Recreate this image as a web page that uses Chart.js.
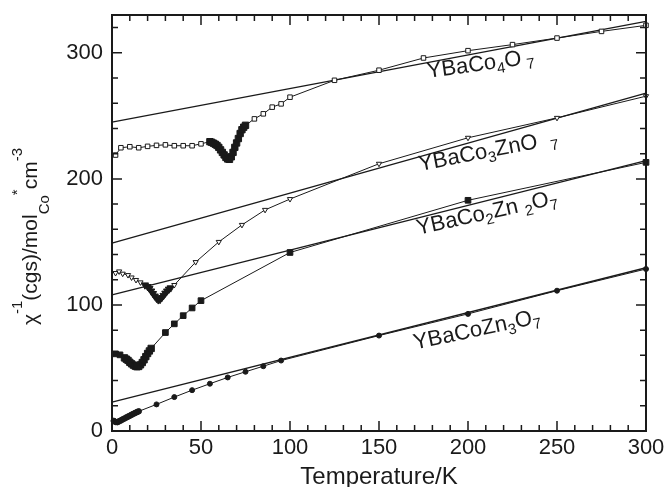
<!DOCTYPE html>
<html><head><meta charset="utf-8">
<script src="https://cdn.jsdelivr.net/npm/chart.js@4/dist/chart.umd.min.js"></script>
<style>html,body{margin:0;padding:0;background:#fff}</style>
</head><body>
<canvas id="c" width="665" height="487"></canvas>
<script>
// ---- data (temperature in K, inverse susceptibility) ----
const co4T   = [2,5,10,15,20,25,30,35,40,45,50,55,56,57,58,59,60,61,62,63,64,65,66,67,68,69,70,71,72,73,74,75,80,85,90,95,100,125,150,175,200,225,250,275,300];
const co4Chi = [218.9,224.7,225.5,224.7,225.8,226.6,227,226.3,226.3,226.3,227.8,229.5,229,228.3,227.5,226.5,225,223,221,219,217,215.8,215.5,217.5,221,225,228.5,232,236,239,241,242.5,247.6,251.6,256.9,259.5,264.8,278.2,286.2,295.9,301.7,306.5,311.7,317,321.8];

const co3T   = [2,4,6,9,11,13.5,16,18.5,20,21,22,23,24,25,26,27,28,29,30,31,32,33,35,47,60,73,86,100,150,200,250,300];
const co3Chi = [125.3,126.6,124.8,123.7,121.8,119.8,117.9,115.8,114.5,113,111,109,107,105.2,104,104.3,105.8,107.5,109.3,111,112.5,113.5,115.8,134,150,163.5,175.4,184,212,232.6,248.4,265.6];

const co2T   = [2,4.5,7,8,9,10,11,12,13,14,15,16,17,18,19,20,21,22,30,35,40,45,50,100,200,300];
const co2Chi = [61.2,60.4,58,57,56,54.5,53.3,52.3,51.5,51,51.2,52.5,54.3,56.5,59,61.5,63.5,65.5,78.1,85,91.5,97.6,103.4,141.6,183,213.1];

const co1T   = [1,2,3,4,5,6,7,8,9,10,11,12,13,14,15,25,35,45,55,65,75,85,95,150,200,250,300];
const co1Chi = [8,7.2,7,7.7,8.4,9.2,9.9,10.7,11.4,12.1,12.9,13.6,14.3,15,15.6,21.1,26.9,32.4,37.5,42.5,47,51.4,55.9,75.7,92.9,111.3,128.5];

// Curie-Weiss fit lines
const fitT     = [0,300];
const fitCo4   = [245,325];
const fitCo3   = [149,268];
const fitCo2   = [108,214.5];
const fitCo1   = [23,129.5];

const xTicks = [0,50,100,150,200,250,300];
const yTicks = [0,100,200,300];

const FONT = '"Liberation Sans", Arial, Helvetica, sans-serif';
const INK = '#1a1a1a';

function pts(T, V){ return T.map((t,i)=>({x:t, y:V[i]})); }
function dense(T, i){
  return (i>0 && T[i]-T[i-1] < 1.6) || (i<T.length-1 && T[i+1]-T[i] < 1.6);
}
function series(T, V, style, r, rDense, openFill){
  return {
    data: pts(T,V), borderColor: INK, borderWidth: 1, showLine: true,
    pointStyle: style, pointRotation: style==='triangle'?180:0,
    pointRadius: c => dense(T, c.dataIndex) ? rDense : r,
    pointBorderWidth: 1, pointBorderColor: INK,
    pointBackgroundColor: c => (openFill && !dense(T, c.dataIndex)) ? '#fff' : INK,
    clip: false, tension: 0, order: 1
  };
}
function fit(V){
  return { data: pts(fitT, V), borderColor: INK, borderWidth: 1.3, pointRadius: 0, showLine: true, clip: false, order: 2 };
}

const labels = [
  {x:177.5, y:280,   a:-8,   segs:[['YBaCo'],['4','sub'],['O\u2009'],['7','sub']]},
  {x:173,   y:206.3, a:-11,  segs:[['YBaCo'],['3','sub'],['ZnO  '],['7','sub']]},
  {x:171.9, y:155.6, a:-12.5,segs:[['YBaCo'],['2','sub'],['Zn '],['2','sub'],['O'],['7','sub']]},
  {x:170.2, y:64.6,  a:-12,  segs:[['YBaCoZn'],['3','sub'],['O'],['7','sub']]}
];
const yTitle = [['χ'],['-1','sup'],['(cgs)/mol'],['Co','sub'],['*','sup'],['cm'],['-3','sup']];

function rich(ctx, segs, main, small, supDy, subDy){
  let xo = 0;
  for (const [t,k] of segs){
    ctx.font = (k ? small : main) + 'px ' + FONT;
    const dy = k==='sub' ? subDy : (k==='sup' ? -supDy : 0);
    ctx.fillText(t, xo, dy);
    xo += ctx.measureText(t).width;
  }
}

const decor = {
  id:'decor',
  afterDatasetsDraw(chart){
    const {ctx, chartArea:a, scales:{x,y}} = chart;
    ctx.save();
    ctx.strokeStyle = INK; ctx.lineWidth = 1.5;
    ctx.beginPath();
    for (let v=0; v<=300; v+=10){
      const p = x.getPixelForValue(v), L = v%50===0 ? 10 : 6;
      ctx.moveTo(p, a.bottom); ctx.lineTo(p, a.bottom-L);
      ctx.moveTo(p, a.top); ctx.lineTo(p, a.top+L);
    }
    for (let v=0; v<=320; v+=20){
      const p = y.getPixelForValue(v), L = v%100===0 ? 10 : 6;
      ctx.moveTo(a.left, p); ctx.lineTo(a.left+L, p);
      ctx.moveTo(a.right, p); ctx.lineTo(a.right-L, p);
    }
    ctx.stroke();
    ctx.lineWidth = 2;
    ctx.strokeRect(a.left, a.top, a.right-a.left, a.bottom-a.top);

    ctx.fillStyle = INK; ctx.textBaseline = 'alphabetic'; ctx.textAlign = 'left';
    for (const L of labels){
      ctx.save();
      ctx.translate(x.getPixelForValue(L.x), y.getPixelForValue(L.y));
      ctx.rotate(L.a*Math.PI/180);
      rich(ctx, L.segs, 22, 15, 9, 5);
      ctx.restore();
    }
    ctx.save();
    ctx.translate(37, 325);
    ctx.rotate(-Math.PI/2);
    rich(ctx, yTitle, 21, 15, 15, 12);
    ctx.restore();
    ctx.restore();
  }
};

new Chart(document.getElementById('c'), {
  type: 'line',
  data: { datasets: [
    series(co4T, co4Chi, 'rect', 3.2, 4.5, true),
    series(co3T, co3Chi, 'triangle', 3, 4.2, true),
    series(co2T, co2Chi, 'rect', 4, 4.5, false),
    series(co1T, co1Chi, 'circle', 2.5, 2.8, false),
    fit(fitCo4), fit(fitCo3), fit(fitCo2), fit(fitCo1)
  ]},
  options: {
    responsive: false, animation: false, devicePixelRatio: 1,
    layout: { padding: { left: 0, right: 19, top: 15, bottom: 0 } },
    plugins: { legend: { display: false }, tooltip: { enabled: false } },
    elements: { line: { fill: false } },
    scales: {
      x: {
        type: 'linear', min: 0, max: 300,
        afterBuildTicks: s => { s.ticks = xTicks.map(v => ({value: v})); },
        afterFit: s => { s.height = 56; s.paddingLeft = 0; s.paddingRight = 0; },
        grid: { display: false, drawTicks: false }, border: { display: false },
        ticks: { color: INK, font: { family: FONT, size: 22 }, padding: 4, maxRotation: 0 },
        title: { display: true, text: 'Temperature/K', color: INK, font: { family: FONT, size: 24 }, padding: { top: 0, bottom: -5 } }
      },
      y: {
        type: 'linear', min: 0, max: 330,
        afterBuildTicks: s => { s.ticks = yTicks.map(v => ({value: v})); },
        afterFit: s => { s.width = 112; s.paddingTop = 0; s.paddingBottom = 0; },
        grid: { display: false, drawTicks: false }, border: { display: false },
        ticks: { color: INK, font: { family: FONT, size: 22 }, padding: 9 }
      }
    }
  },
  plugins: [decor]
});
</script>
</body></html>
